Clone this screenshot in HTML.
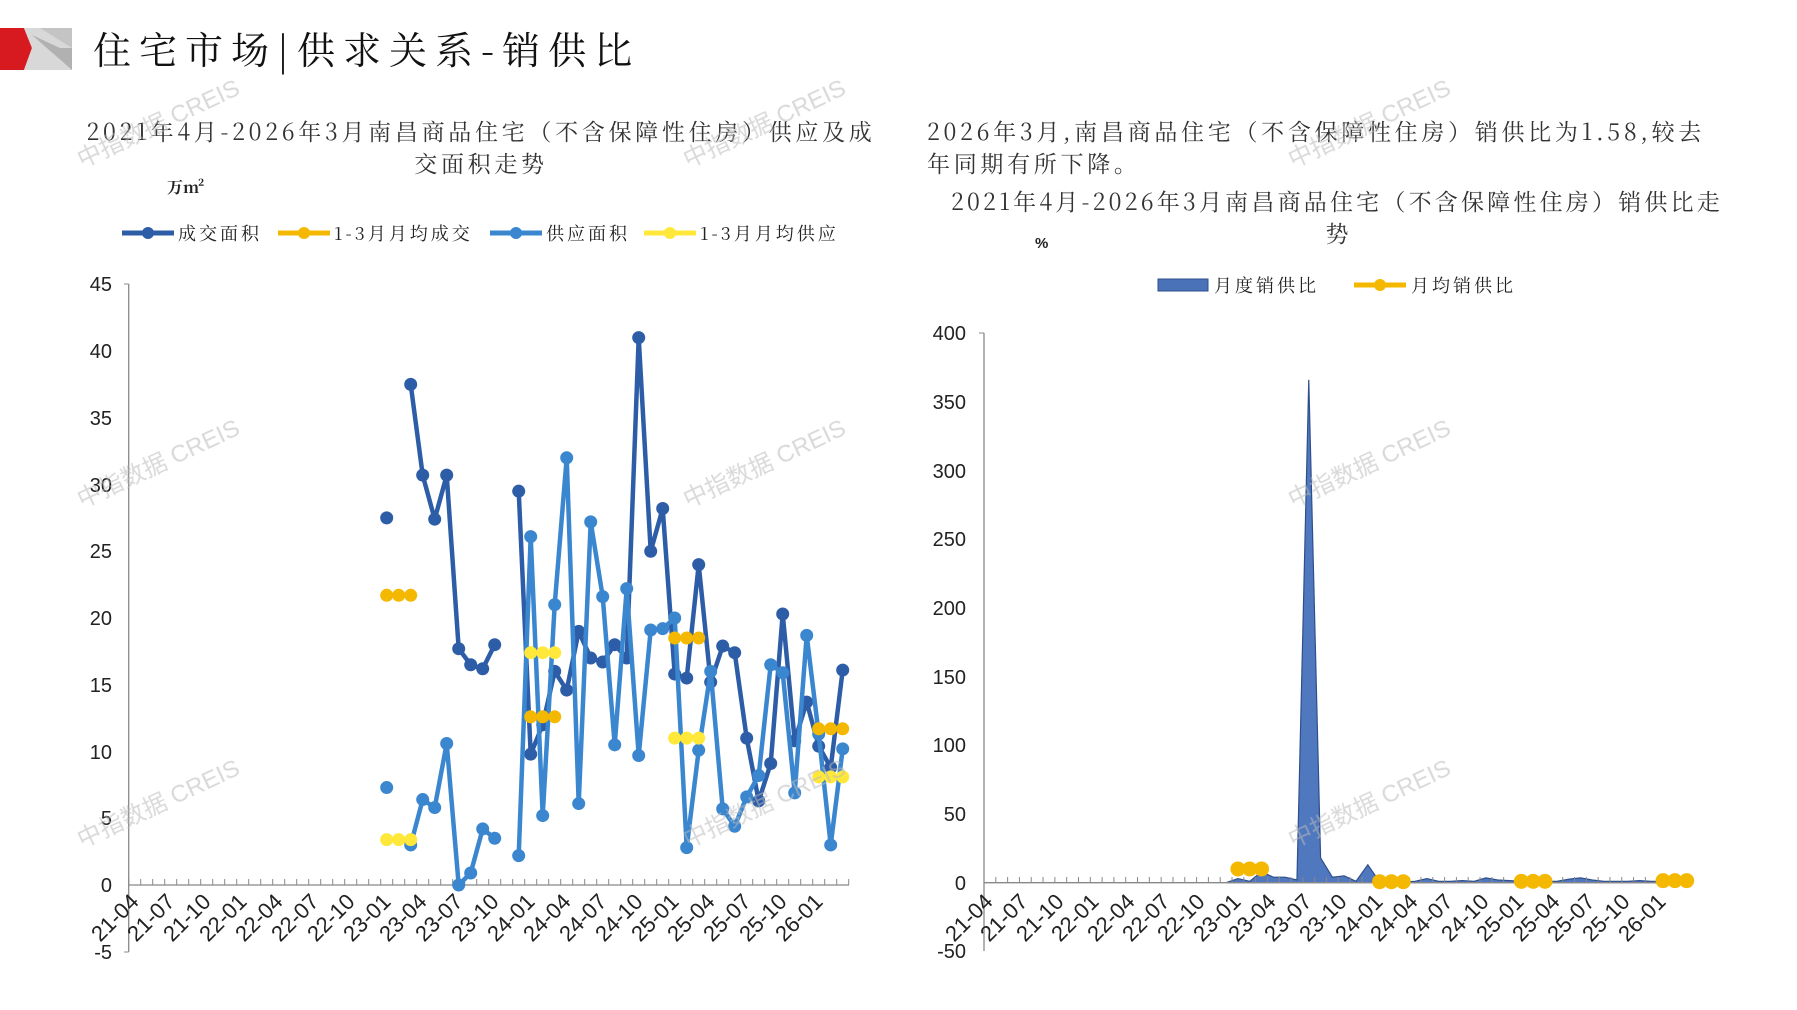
<!DOCTYPE html>
<html><head><meta charset="utf-8"><style>
html,body{margin:0;padding:0;background:#fff;}
svg{display:block;font-family:"Liberation Sans","Noto Sans CJK SC",sans-serif;}
.cj{font-family:"Noto Serif CJK SC","Liberation Serif",serif;}
</style></head><body>
<svg id="s" width="1797" height="1010" viewBox="0 0 1797 1010" xmlns="http://www.w3.org/2000/svg">
<polygon points="0,28 24,28 32,48 24,70 0,70" fill="#d71920"/>
<polygon points="24,28 72,28 72,70 24,70 32,48" fill="#d8d8d8"/>
<polygon points="32,35 72,70 72,48 60,48" fill="#a8a8a8" opacity="0.8"/>
<polygon points="40,28 72,28 72,48" fill="#c4c4c4"/>
<text x="93" y="64" font-size="38" class="cj" fill="#111" letter-spacing="8">住宅市场|供求关系-销供比</text>

<text x="481" y="140" font-size="23" class="cj" fill="#333" text-anchor="middle" letter-spacing="3.7">2021年4月-2026年3月南昌商品住宅（不含保障性住房）供应及成</text>
<text x="481" y="172" font-size="23" class="cj" fill="#333" text-anchor="middle" letter-spacing="3.7">交面积走势</text>
<text x="167" y="193" font-size="16" class="cj" fill="#222" font-weight="bold">万m²</text>
<g font-size="18" class="cj" fill="#222" letter-spacing="3">
<line x1="122" y1="233" x2="174" y2="233" stroke="#2E5DA8" stroke-width="5"/><circle cx="148" cy="233" r="6" fill="#2E5DA8"/>
<text x="178" y="240">成交面积</text>
<line x1="278" y1="233" x2="330" y2="233" stroke="#F5B800" stroke-width="5"/><circle cx="304" cy="233" r="6" fill="#F5B800"/>
<text x="334" y="240">1-3月月均成交</text>
<line x1="490" y1="233" x2="542" y2="233" stroke="#3A87D0" stroke-width="5"/><circle cx="516" cy="233" r="6" fill="#3A87D0"/>
<text x="546" y="240">供应面积</text>
<line x1="644" y1="233" x2="696" y2="233" stroke="#FFE83A" stroke-width="5"/><circle cx="670" cy="233" r="6" fill="#FFE83A"/>
<text x="700" y="240">1-3月月均供应</text>
</g>
<g font-size="20" fill="#222" text-anchor="end">
<text x="112" y="291">45</text><text x="112" y="358">40</text><text x="112" y="425">35</text><text x="112" y="492">30</text><text x="112" y="558">25</text><text x="112" y="625">20</text><text x="112" y="692">15</text><text x="112" y="759">10</text><text x="112" y="825">5</text><text x="112" y="892">0</text><text x="112" y="959">-5</text>
</g>
<line x1="128.7" y1="284" x2="128.7" y2="952" stroke="#888" stroke-width="1.3"/>
<line x1="124" y1="284" x2="128.7" y2="284" stroke="#888"/>
<line x1="124" y1="952" x2="128.7" y2="952" stroke="#888"/>
<line x1="128.7" y1="885" x2="849" y2="885" stroke="#888" stroke-width="1.3"/>
<g id="lt" stroke="#888" stroke-width="1"></g>
<g id="lseries"></g>
<g font-size="22" fill="#222" text-anchor="end">
<text transform="translate(140,903) rotate(-45)">21-04</text>
<text transform="translate(176,903) rotate(-45)">21-07</text>
<text transform="translate(212,903) rotate(-45)">21-10</text>
<text transform="translate(248,903) rotate(-45)">22-01</text>
<text transform="translate(284,903) rotate(-45)">22-04</text>
<text transform="translate(320,903) rotate(-45)">22-07</text>
<text transform="translate(356,903) rotate(-45)">22-10</text>
<text transform="translate(392,903) rotate(-45)">23-01</text>
<text transform="translate(428,903) rotate(-45)">23-04</text>
<text transform="translate(464,903) rotate(-45)">23-07</text>
<text transform="translate(500,903) rotate(-45)">23-10</text>
<text transform="translate(536,903) rotate(-45)">24-01</text>
<text transform="translate(572,903) rotate(-45)">24-04</text>
<text transform="translate(608,903) rotate(-45)">24-07</text>
<text transform="translate(644,903) rotate(-45)">24-10</text>
<text transform="translate(680,903) rotate(-45)">25-01</text>
<text transform="translate(716,903) rotate(-45)">25-04</text>
<text transform="translate(752,903) rotate(-45)">25-07</text>
<text transform="translate(788,903) rotate(-45)">25-10</text>
<text transform="translate(824,903) rotate(-45)">26-01</text>
</g>

<text x="927" y="140" font-size="23" class="cj" fill="#333" letter-spacing="3.7">2026年3月,南昌商品住宅（不含保障性住房）销供比为1.58,较去</text>
<text x="927" y="172" font-size="23" class="cj" fill="#333" letter-spacing="3.7">年同期有所下降。</text>
<text x="1337" y="210" font-size="23" class="cj" fill="#333" text-anchor="middle" letter-spacing="3.2">2021年4月-2026年3月南昌商品住宅（不含保障性住房）销供比走</text>
<text x="1337" y="242" font-size="23" class="cj" fill="#333" text-anchor="middle">势</text>
<text x="1035" y="248" font-size="15" fill="#222" font-weight="bold">%</text>
<g font-size="18" class="cj" fill="#222" letter-spacing="3">
<rect x="1158" y="279" width="50" height="12" fill="#4A72B8" stroke="#2E4F8C"/>
<text x="1214" y="292">月度销供比</text>
<line x1="1354" y1="285" x2="1406" y2="285" stroke="#F5B800" stroke-width="5"/><circle cx="1380" cy="285" r="6" fill="#F5B800"/>
<text x="1411" y="292">月均销供比</text>
</g>
<g font-size="20" fill="#222" text-anchor="end">
<text x="966" y="340">400</text><text x="966" y="409">350</text><text x="966" y="478">300</text><text x="966" y="546">250</text><text x="966" y="615">200</text><text x="966" y="684">150</text><text x="966" y="752">100</text><text x="966" y="821">50</text><text x="966" y="890">0</text><text x="966" y="958">-50</text>
</g>
<g id="rseries"></g>
<line x1="984" y1="333" x2="984" y2="951" stroke="#888" stroke-width="1.3"/>
<line x1="979" y1="333" x2="984" y2="333" stroke="#888"/>
<line x1="984" y1="882.7" x2="1693" y2="882.7" stroke="#888" stroke-width="1.3"/>
<g id="rt" stroke="#888" stroke-width="1"></g>
<g id="ravg"></g>
<g font-size="22" fill="#222" text-anchor="end">
<text transform="translate(994,903) rotate(-45)">21-04</text>
<text transform="translate(1029,903) rotate(-45)">21-07</text>
<text transform="translate(1065,903) rotate(-45)">21-10</text>
<text transform="translate(1100,903) rotate(-45)">22-01</text>
<text transform="translate(1136,903) rotate(-45)">22-04</text>
<text transform="translate(1171,903) rotate(-45)">22-07</text>
<text transform="translate(1206,903) rotate(-45)">22-10</text>
<text transform="translate(1242,903) rotate(-45)">23-01</text>
<text transform="translate(1277,903) rotate(-45)">23-04</text>
<text transform="translate(1313,903) rotate(-45)">23-07</text>
<text transform="translate(1348,903) rotate(-45)">23-10</text>
<text transform="translate(1384,903) rotate(-45)">24-01</text>
<text transform="translate(1419,903) rotate(-45)">24-04</text>
<text transform="translate(1454,903) rotate(-45)">24-07</text>
<text transform="translate(1490,903) rotate(-45)">24-10</text>
<text transform="translate(1525,903) rotate(-45)">25-01</text>
<text transform="translate(1561,903) rotate(-45)">25-04</text>
<text transform="translate(1596,903) rotate(-45)">25-07</text>
<text transform="translate(1631,903) rotate(-45)">25-10</text>
<text transform="translate(1667,903) rotate(-45)">26-01</text>
</g>

<g font-size="24" fill="#bbb" opacity="0.55">
<text transform="translate(82,168) rotate(-25)">中指数据 CREIS</text>
<text transform="translate(82,508) rotate(-25)">中指数据 CREIS</text>
<text transform="translate(82,848) rotate(-25)">中指数据 CREIS</text>
<text transform="translate(688,168) rotate(-25)">中指数据 CREIS</text>
<text transform="translate(688,508) rotate(-25)">中指数据 CREIS</text>
<text transform="translate(688,848) rotate(-25)">中指数据 CREIS</text>
<text transform="translate(1293,168) rotate(-25)">中指数据 CREIS</text>
<text transform="translate(1293,508) rotate(-25)">中指数据 CREIS</text>
<text transform="translate(1293,848) rotate(-25)">中指数据 CREIS</text>
</g>
</svg>
<script>
(function(){
var NS="http://www.w3.org/2000/svg";
function el(p,t,a){var e=document.createElementNS(NS,t);for(var k in a)e.setAttribute(k,a[k]);p.appendChild(e);return e;}
var lt=document.getElementById('lt'),rt=document.getElementById('rt');
for(var i=0;i<=60;i++){var x=128.7+12.0*i;el(lt,'line',{x1:x,y1:879,x2:x,y2:885});var x2=984+11.81*i;el(rt,'line',{x1:x2,y1:877,x2:x2,y2:882.7});}
function LX(i){return 134.7+12.0*i;} function LY(v){return 885-v*13.35;}
var deal={21:27.5,23:37.5,24:30.7,25:27.4,26:30.7,27:17.7,28:16.5,29:16.2,30:18.0,32:29.5,33:9.8,34:12,35:16,36:14.6,37:19,38:17,39:16.7,40:18,41:17,42:41,43:25,44:28.2,45:15.8,46:15.5,47:24,48:15.2,49:17.9,50:17.4,51:11,52:6.3,53:9.1,54:20.3,55:10.8,56:13.7,57:10.4,58:8.8,59:16.1};
var sup={21:7.3,23:3,24:6.4,25:5.8,26:10.6,27:0,28:0.9,29:4.2,30:3.5,32:2.2,33:26.1,34:5.2,35:21,36:32,37:6.1,38:27.2,39:21.6,40:10.5,41:22.2,42:9.7,43:19.1,44:19.2,45:20,46:2.8,47:10.1,48:16,49:5.7,50:4.4,51:6.6,52:8.2,53:16.5,54:15.9,55:6.9,56:18.7,57:11.3,58:3,59:10.2};
var g=document.getElementById('lseries');
function line(d,c,fx,fy,grp,r){var segs=[],cur=[];for(var i=0;i<60;i++){if(d[i]!==undefined){cur.push([fx(i),fy(d[i])]);}else{if(cur.length)segs.push(cur);cur=[];}}if(cur.length)segs.push(cur);
segs.forEach(function(s){if(s.length>1)el(grp,'polyline',{points:s.map(function(p){return p.join(',')}).join(' '),fill:'none',stroke:c,'stroke-width':4.5,'stroke-linejoin':'round'});});
for(var i in d)el(grp,'circle',{cx:fx(+i),cy:fy(d[i]),r:r||6.5,fill:c});}
function avg(v,idx){var o={};idx.forEach(function(i){o[i]=v;});return o;}
line(deal,'#2E5DA8',LX,LY,g);
line(sup,'#3A87D0',LX,LY,g);
[[21.7,21],[12.6,33],[18.5,45],[11.7,57]].forEach(function(a){line(avg(a[0],[a[1],a[1]+1,a[1]+2]),'#F5B800',LX,LY,g);});
[[3.4,21],[17.4,33],[11,45],[8.1,57]].forEach(function(a){line(avg(a[0],[a[1],a[1]+1,a[1]+2]),'#FFE83A',LX,LY,g);});
function RX(i){return 989.9+11.81*i;} function RY(v){return 882.7-v*1.374;}
var ratio={};for(var i=0;i<60;i++)ratio[i]=0;
var rv={21:3,22:1,23:8,24:4,25:4,26:2,27:366,28:18,29:4,30:5,31:1,32:13,33:0.5,34:0.5,35:0.5,36:1,37:3,38:1,39:1,40:1.5,41:1,42:3.5,43:2,44:1.5,45:1,46:1,47:1,48:1,49:2.5,50:3.5,51:2,52:1,53:1,54:1,55:1.5,56:1,57:1,58:1,59:1.6};
for(var k in rv)ratio[k]=rv[k];
var pts=[[RX(20),RY(0)]];for(var i=20;i<60;i++)pts.push([RX(i),RY(ratio[i])]);pts.push([RX(59),RY(0)]);
el(document.getElementById('rseries'),'polygon',{points:pts.map(function(p){return p.join(',')}).join(' '),fill:'#5078BE',stroke:'#2E4F8C','stroke-width':1.2});
var ra=document.getElementById('ravg');
[[10,21],[0.7,33],[1,45],[1.5,57]].forEach(function(a){line(avg(a[0],[a[1],a[1]+1,a[1]+2]),'#F5B800',RX,RY,ra,7.5);});
})();
</script>
</body></html>
